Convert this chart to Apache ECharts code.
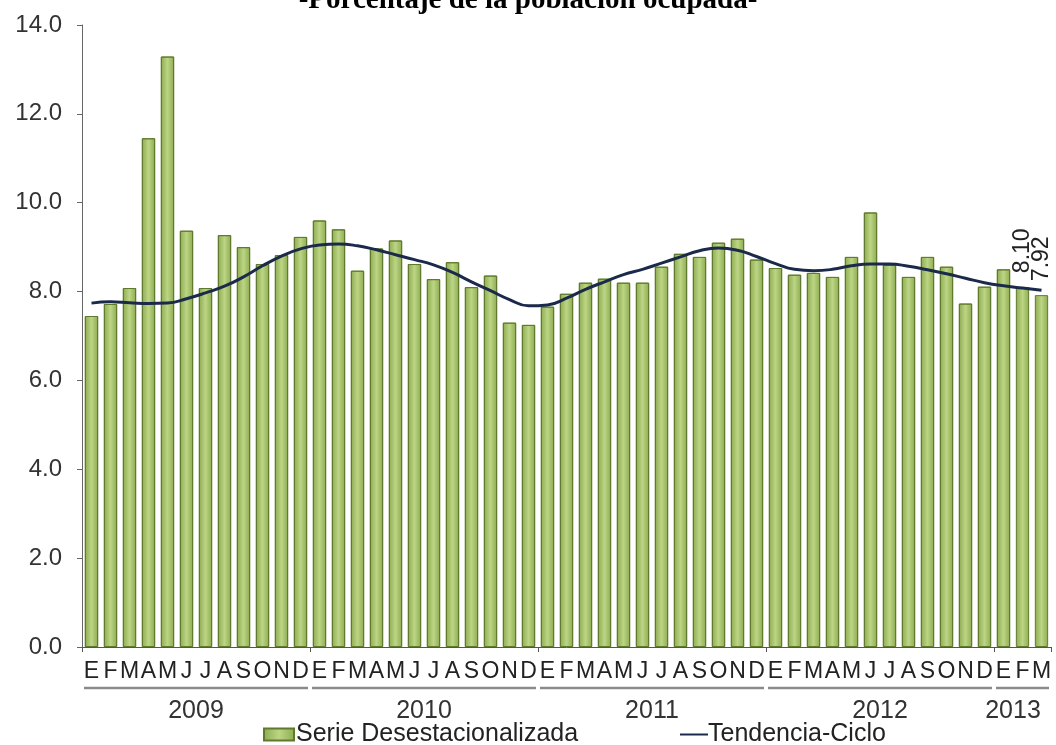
<!DOCTYPE html>
<html>
<head>
<meta charset="utf-8">
<script src="https://cdn.jsdelivr.net/npm/echarts@6/dist/echarts.min.js"></script>
<style>
  html, body { margin: 0; padding: 0; background: #fff; }
  #main { width: 1056px; height: 745px; }
</style>
</head>
<body>
<div id="main"></div>
<script>
// meses (E..D) de 2009 a marzo 2013
var monthLetters = ['E', 'F', 'M', 'A', 'M', 'J', 'J', 'A', 'S', 'O', 'N', 'D'];
var years = ['2009', '2010', '2011', '2012', '2013'];
var monthsPerYear = [12, 12, 12, 12, 3];

// Serie desestacionalizada
var serieDesest = [
    7.45, 7.72, 8.08, 11.45, 13.29, 9.37, 8.08, 9.27, 9.00, 8.62, 8.82, 9.23,
    9.60, 9.40, 8.47, 8.97, 9.15, 8.62, 8.28, 8.66, 8.10, 8.36, 7.30, 7.25,
    7.66, 7.95, 8.20, 8.29, 8.20, 8.20, 8.56, 8.85, 8.78, 9.10, 9.19, 8.72,
    8.53, 8.38, 8.42, 8.33, 8.78, 9.78, 8.60, 8.33, 8.78, 8.56, 7.73, 8.11,
    8.50, 8.10, 7.92
];

// Tendencia-Ciclo
var tendencia = [
    7.74, 7.77, 7.75, 7.73, 7.74, 7.84, 7.97, 8.12, 8.33, 8.58, 8.80, 8.96,
    9.05, 9.07, 9.03, 8.94, 8.83, 8.72, 8.60, 8.43, 8.22, 8.02, 7.82, 7.68,
    7.70, 7.85, 8.05, 8.22, 8.38, 8.50, 8.64, 8.78, 8.92, 8.98, 8.93, 8.79,
    8.63, 8.50, 8.47, 8.50, 8.58, 8.62, 8.62, 8.57, 8.49, 8.40, 8.30, 8.20,
    8.13, 8.08, 8.03
];

var yTicks = [0, 2, 4, 6, 8, 10, 12, 14];

// categorias: una por mes
var categories = [];
years.forEach(function (y, yi) {
    for (var m = 0; m < monthsPerYear[yi]; m++) {
        categories.push(monthLetters[m] + '-' + y);
    }
});
// indice donde va la etiqueta del año
var yearLabelIdx = {};
var start = 0;
monthsPerYear.forEach(function (n, yi) {
    yearLabelIdx[start + (n >= 12 ? 5 : 0)] = years[yi];
    start += n;
});

var font = "'Liberation Sans', Arial, sans-serif";
var barFill = new echarts.graphic.LinearGradient(0, 0, 1, 0, [
    { offset: 0, color: '#8dab4f' },
    { offset: 0.5, color: '#bcd585' },
    { offset: 1, color: '#8dab4f' }
]);
var lineColor = '#1b2a4a';

var lastLabeled = [serieDesest.length - 2, serieDesest.length - 1];
var barData = serieDesest.map(function (v, i) {
    if (lastLabeled.indexOf(i) >= 0) {
        return {
            value: v,
            label: {
                show: true,
                position: 'top',
                rotate: 90,
                align: 'left',
                verticalAlign: 'middle',
                distance: 14,
                fontFamily: font,
                fontSize: 23,
                color: '#222',
                formatter: function (p) { return p.value.toFixed(2); }
            }
        };
    }
    return v;
});

var myChart = echarts.init(document.getElementById('main'));
var option = {
    backgroundColor: '#fff',
    animation: false,
    title: {
        text: '-Porcentaje de la población ocupada-',
        left: 'center',
        top: -19,
        textStyle: {
            fontFamily: "'Liberation Serif', 'Times New Roman', serif",
            fontWeight: 'bold',
            fontSize: 29,
            color: '#000'
        }
    },
    legend: [
        {
            left: 263,
            top: 722,
            padding: 0,
            itemWidth: 30,
            itemHeight: 12,
            textStyle: { fontFamily: font, fontSize: 25, color: '#222', padding: [0, 0, 0, -3] },
            data: [{ name: 'Serie Desestacionalizada', icon: 'rect' }]
        },
        {
            left: 680,
            top: 722,
            padding: 0,
            itemWidth: 28,
            itemHeight: 2,
            textStyle: { fontFamily: font, fontSize: 25, color: '#222', padding: [0, 0, 0, -5] },
            data: [{ name: 'Tendencia-Ciclo', icon: 'rect' }]
        }
    ],
    grid: {
        left: 82,
        right: 5,
        top: 25,
        bottom: 98
    },
    xAxis: [
        {
            type: 'category',
            data: categories,
            axisLine: { show: true, lineStyle: { color: '#555', width: 1 } },
            axisTick: {
                show: true,
                length: 5,
                lineStyle: { color: '#555' },
                interval: function (idx) { return idx % 12 === 0; }
            },
            axisLabel: {
                interval: 0,
                margin: 13,
                fontFamily: font,
                fontSize: 23,
                color: '#222',
                formatter: function (v) { return v.split('-')[0]; }
            }
        },
        {
            type: 'category',
            data: categories,
            position: 'bottom',
            offset: 46,
            axisLine: { show: false },
            axisTick: { show: false },
            axisLabel: {
                interval: 0,
                margin: 6,
                padding: [0, 0, 0, 19],
                fontFamily: font,
                fontSize: 25,
                color: '#333',
                formatter: function (v, idx) { return yearLabelIdx[idx] || ''; }
            }
        }
    ],
    yAxis: {
        type: 'value',
        min: yTicks[0],
        max: yTicks[yTicks.length - 1],
        interval: 2,
        axisLine: { show: true, lineStyle: { color: '#666', width: 1 } },
        axisTick: { show: true, length: 5, lineStyle: { color: '#666' } },
        splitLine: { show: false },
        axisLabel: {
            margin: 20,
            fontFamily: font,
            fontSize: 24,
            color: '#333',
            formatter: function (v) { return v.toFixed(1); }
        }
    },
    series: [
        {
            name: 'Serie Desestacionalizada',
            type: 'bar',
            xAxisIndex: 0,
            barCategoryGap: '30%',
            data: barData,
            itemStyle: {
                color: barFill,
                borderColor: '#5f7a2c',
                borderWidth: 1
            }
        },
        {
            name: 'Tendencia-Ciclo',
            type: 'line',
            xAxisIndex: 0,
            smooth: true,
            symbol: 'none',
            data: tendencia,
            lineStyle: { color: lineColor, width: 3 },
            itemStyle: { color: lineColor }
        }
    ]
};
myChart.setOption(option);

// lineas bajo los meses de cada año, calculadas con la escala del eje
function drawYearLines() {
    var c0 = myChart.convertToPixel({ xAxisIndex: 0 }, 0);
    var c1 = myChart.convertToPixel({ xAxisIndex: 0 }, 1);
    var half = (c1 - c0) / 2;
    var y0 = myChart.convertToPixel({ yAxisIndex: 0 }, 0);
    var els = [];
    var s = 0;
    monthsPerYear.forEach(function (n) {
        var x1 = myChart.convertToPixel({ xAxisIndex: 0 }, s) - half + 2;
        var x2 = myChart.convertToPixel({ xAxisIndex: 0 }, s + n - 1) + half - 2;
        els.push({
            type: 'line',
            shape: { x1: x1, y1: y0 + 41, x2: x2, y2: y0 + 41 },
            style: { stroke: '#8a8a8a', lineWidth: 2.5 }
        });
        s += n;
    });
    myChart.setOption({ graphic: els });
}
drawYearLines();

window.onresize = function () {
    myChart.resize();
    drawYearLines();
};
</script>
</body>
</html>
